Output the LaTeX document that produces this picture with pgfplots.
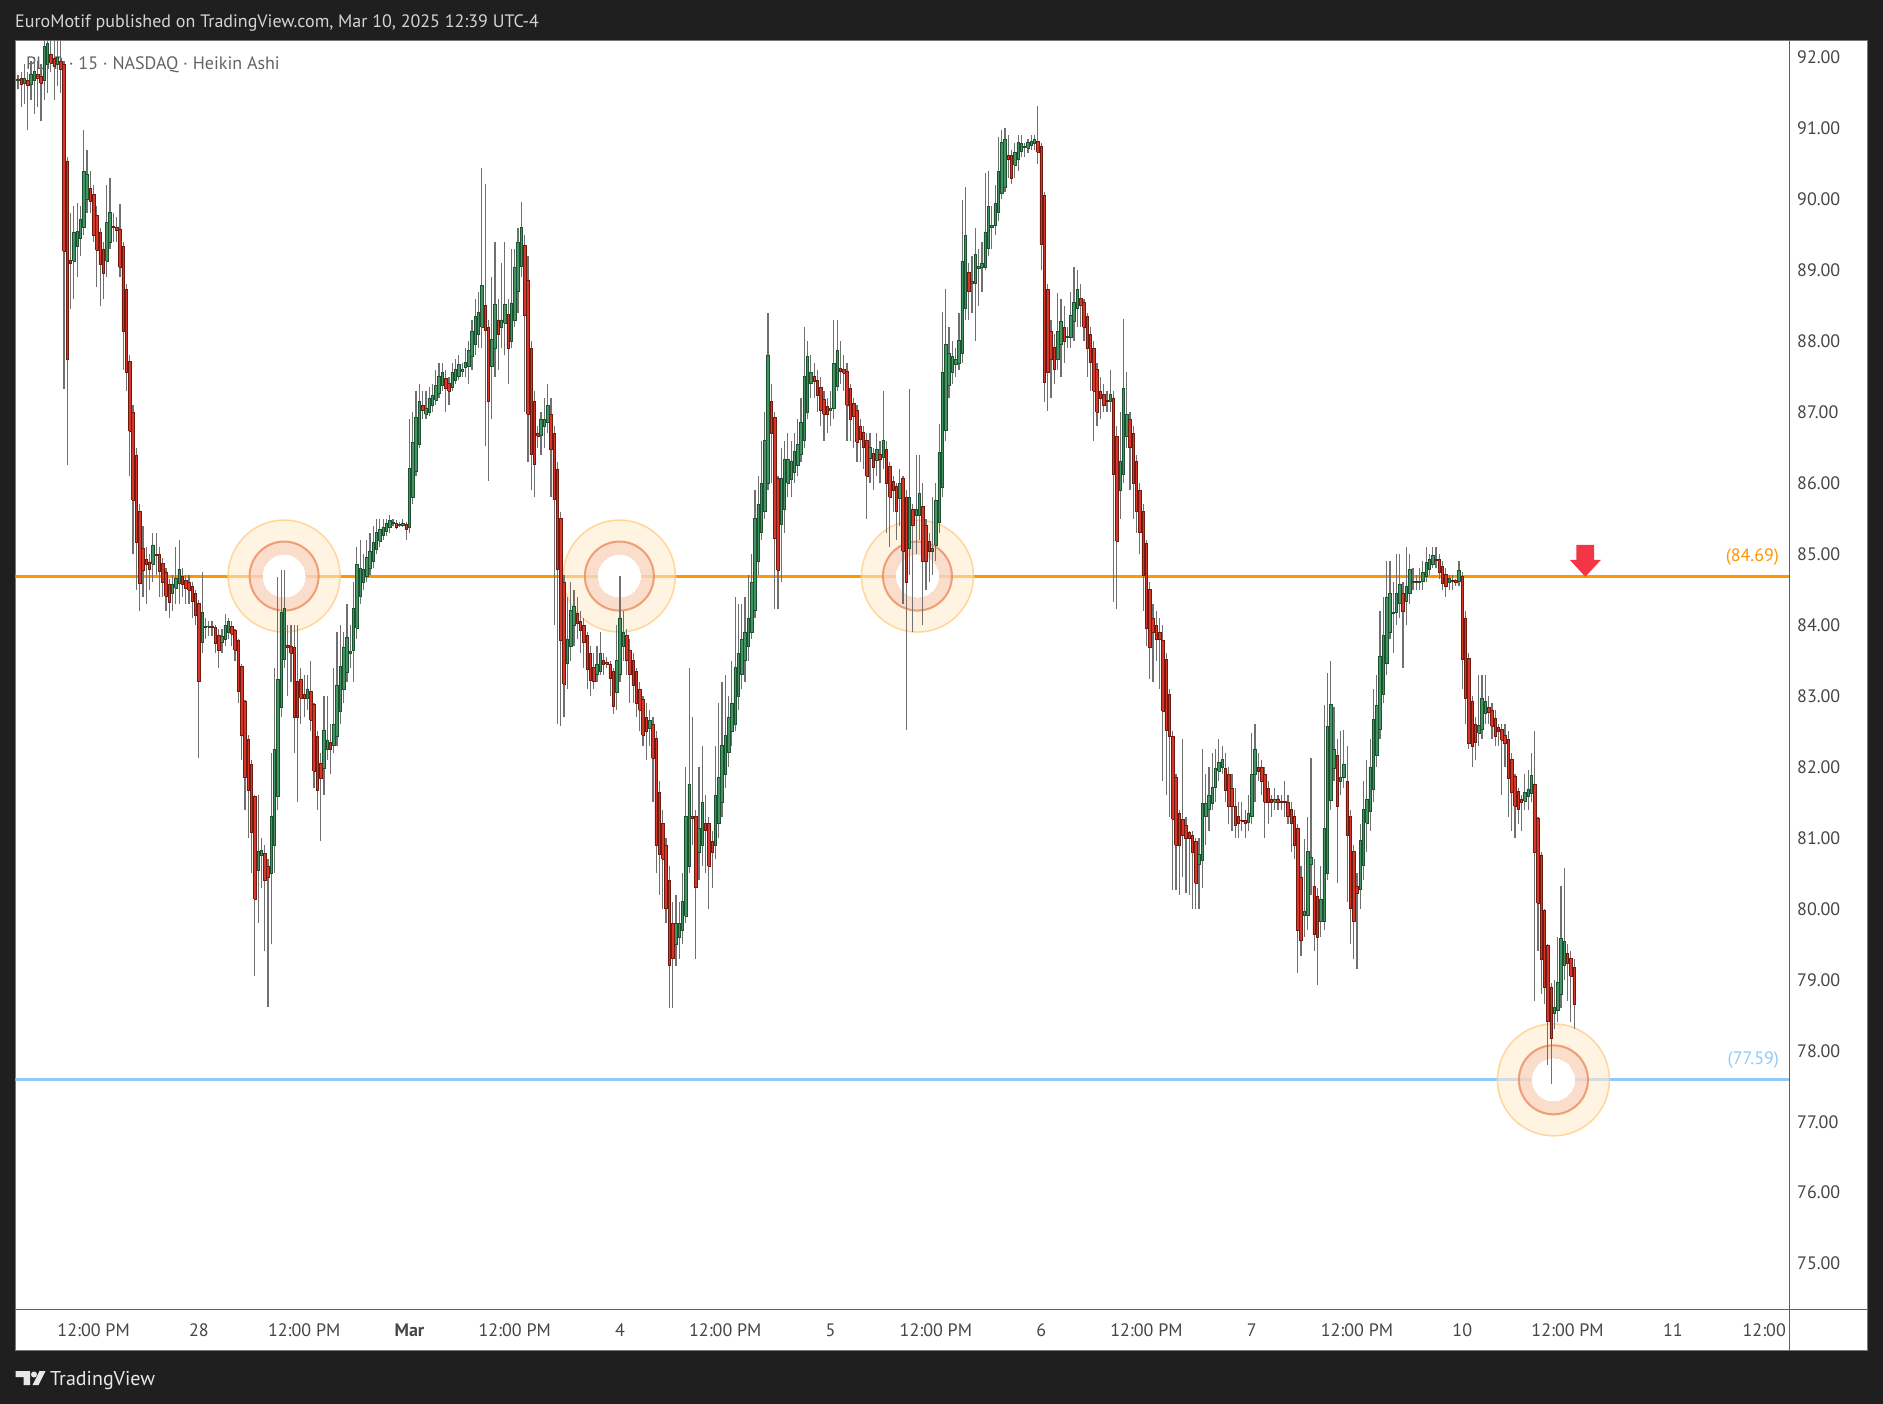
\documentclass[border=0pt]{standalone}
\usepackage{pgfplots}
\pgfplotsset{compat=1.18}
\usepackage{pgfplotstable}
\usepackage{fontspec}
\setmainfont{PT Sans}

\definecolor{framebg}{RGB}{31,31,31}
\definecolor{hdr}{RGB}{212,212,212}
\definecolor{panelline}{RGB}{120,120,120}
\definecolor{logo}{RGB}{232,232,232}
\definecolor{axisgray}{RGB}{95,95,95}
\definecolor{ticktext}{RGB}{70,70,70}
\definecolor{legtext}{RGB}{100,100,100}
\definecolor{upfill}{RGB}{67,148,99}
\definecolor{upline}{RGB}{28,82,48}
\definecolor{dnfill}{RGB}{214,55,40}
\definecolor{dnline}{RGB}{112,26,16}
\definecolor{wick}{RGB}{112,112,112}
\definecolor{resist}{RGB}{255,152,0}
\definecolor{support}{RGB}{144,202,249}
\definecolor{arrowred}{RGB}{242,54,69}
\definecolor{ringout}{RGB}{255,235,207}
\definecolor{ringoutline}{RGB}{255,200,120}
\definecolor{ringin}{RGB}{248,207,187}
\definecolor{ringinline}{RGB}{236,140,95}

\newcommand\tvfont{\fontsize{18}{21}\selectfont}

% PLTR 15 min Heikin Ashi, x = bar index (0 = Feb 28 04:00, 64 bars a day)
\pgfplotstableread{
x o h l c
-55 91.68 91.75 91.55 91.68
-54 91.70 91.80 91.30 91.62
-53 91.64 91.90 91.35 91.70
-52 91.68 91.80 90.97 91.60
-51 91.62 91.95 91.40 91.76
-50 91.68 92.00 91.20 91.80
-49 91.76 91.95 91.30 91.70
-48 91.73 91.90 91.10 91.64
-47 91.68 92.30 91.40 92.16
-46 91.90 92.30 91.50 92.20
-45 92.05 92.30 91.80 91.92
-44 91.98 92.30 91.40 91.88
-43 91.90 92.30 91.60 92.00
-42 91.95 92.25 91.50 91.83
-41 91.90 91.95 87.33 89.27
-40 90.54 90.60 86.25 87.74
-39 89.14 89.81 88.46 89.10
-38 89.13 89.90 88.60 89.54
-37 89.34 89.95 88.90 89.55
-36 89.45 89.90 89.20 89.72
-35 89.60 90.98 89.50 90.39
-34 90.00 90.70 89.80 90.35
-33 90.15 90.40 89.80 89.97
-32 90.07 90.20 89.40 89.49
-31 89.78 89.90 88.77 89.28
-30 89.53 89.60 88.50 89.08
-29 89.30 89.40 88.60 88.95
-28 89.13 90.20 88.90 89.67
-27 89.40 90.30 89.30 89.82
-26 89.62 89.80 89.40 89.60
-25 89.60 89.75 89.40 89.56
-24 89.58 89.94 88.90 89.04
-23 89.34 89.40 87.60 88.14
-22 88.73 88.80 87.30 87.56
-21 87.72 87.80 86.10 86.73
-20 87.00 87.10 85.00 85.76
-19 86.39 86.50 84.50 85.17
-18 85.60 85.70 84.20 84.59
-17 85.08 85.40 84.40 84.77
-16 84.93 85.10 84.30 84.85
-15 84.89 85.00 84.50 84.78
-14 84.86 85.30 84.60 85.13
-13 85.00 85.30 84.70 84.98
-12 84.99 85.10 84.40 84.75
-11 84.87 84.95 84.40 84.60
-10 84.74 84.80 84.20 84.41
-9 84.57 84.65 84.10 84.32
-8 84.45 84.70 84.20 84.58
-7 84.52 85.10 84.30 84.66
-6 84.59 85.20 84.30 84.79
-5 84.69 84.80 84.40 84.57
-4 84.63 84.70 84.30 84.52
-3 84.60 84.70 84.30 84.49
-2 84.54 84.60 84.10 84.34
-1 84.44 84.50 84.00 84.14
0 84.30 84.35 82.12 83.20
1 83.75 84.75 83.60 84.18
2 83.97 84.10 83.80 83.98
3 83.98 84.05 83.85 83.98
4 83.98 84.05 83.85 83.97
5 83.97 84.00 83.60 83.74
6 83.86 83.95 83.40 83.64
7 83.75 83.95 83.60 83.84
8 83.80 84.15 83.70 84.00
9 83.90 84.10 83.80 84.05
10 83.98 84.05 83.70 83.87
11 83.92 83.95 83.50 83.65
12 83.78 83.80 82.90 83.06
13 83.42 83.45 82.10 82.45
14 82.93 82.95 81.40 81.85
15 82.39 82.45 81.00 81.67
16 82.03 82.10 80.50 81.08
17 81.58 81.60 79.06 80.14
18 80.54 81.60 79.80 80.81
19 80.75 81.00 80.30 80.82
20 80.78 80.90 79.40 80.40
21 80.60 80.70 78.61 80.45
22 80.50 82.20 79.50 81.31
23 80.90 83.40 80.50 82.25
24 81.58 84.68 81.40 83.24
25 82.84 84.77 82.70 84.18
26 83.51 84.77 83.40 84.23
27 83.72 84.00 83.00 83.68
28 83.70 84.00 83.20 83.60
29 83.69 84.00 82.20 82.70
30 83.20 84.00 81.50 82.70
31 83.24 83.40 82.60 82.97
32 83.02 83.30 82.70 82.97
33 82.97 83.30 82.80 83.10
34 83.07 83.50 82.50 82.66
35 82.88 82.90 81.70 81.94
36 82.43 82.50 81.40 81.67
37 82.05 82.20 80.95 81.84
38 81.98 83.00 81.60 82.52
39 82.25 83.00 82.10 82.38
40 82.34 82.60 81.90 82.25
41 82.30 83.40 82.20 82.60
42 82.43 83.90 82.30 83.15
43 82.79 84.00 82.60 83.42
44 83.10 83.90 82.90 83.68
45 83.33 84.30 83.20 83.83
46 83.60 84.00 83.40 83.63
47 83.65 84.60 83.20 84.23
48 83.96 85.10 83.80 84.86
49 84.40 85.20 84.30 84.80
50 84.60 85.00 84.50 84.78
51 84.68 85.20 84.60 84.95
52 84.80 85.30 84.70 85.04
53 84.90 85.40 84.80 85.17
54 85.06 85.50 85.00 85.30
55 85.18 85.50 85.10 85.35
56 85.26 85.50 85.20 85.38
57 85.32 85.50 85.25 85.44
58 85.38 85.55 85.30 85.47
59 85.43 85.50 85.40 85.44
60 85.43 85.48 85.35 85.38
61 85.40 85.45 85.38 85.42
62 85.40 85.50 85.38 85.44
63 85.42 85.45 85.20 85.35
64 85.38 86.90 85.30 86.21
65 85.80 87.00 85.70 86.57
66 86.16 87.30 86.10 86.93
67 86.55 87.40 86.50 87.15
68 87.10 87.30 86.90 87.03
69 86.97 87.30 86.90 87.06
70 87.00 87.35 86.95 87.20
71 87.10 87.40 87.00 87.24
72 87.17 87.60 87.10 87.38
73 87.27 87.70 87.20 87.51
74 87.38 87.70 87.30 87.56
75 87.47 87.60 87.00 87.33
76 87.40 87.50 87.10 87.30
77 87.35 87.70 87.30 87.56
78 87.45 87.75 87.40 87.60
79 87.50 87.80 87.45 87.67
80 87.58 87.70 87.50 87.60
81 87.63 87.90 87.50 87.70
82 87.65 88.00 87.40 87.87
83 87.78 88.30 87.60 88.14
84 87.96 88.60 87.80 88.35
85 88.10 88.70 87.90 88.40
86 88.20 90.44 87.90 88.79
87 88.50 90.21 86.52 88.15
88 88.20 88.30 86.03 87.15
89 87.65 88.90 86.90 88.02
90 87.90 89.40 87.50 88.52
91 88.30 88.60 87.60 88.10
92 88.20 89.10 87.90 88.30
93 88.25 89.40 87.80 88.52
94 88.38 88.60 87.40 87.90
95 88.00 89.30 87.90 88.54
96 88.30 89.30 88.20 89.04
97 88.70 89.60 88.40 89.40
98 89.05 89.96 88.90 89.60
99 89.35 89.50 87.00 88.36
100 88.86 89.20 86.30 86.97
101 87.90 88.00 85.90 86.40
102 87.15 87.30 85.80 86.26
103 86.70 86.80 86.50 86.66
104 86.68 87.00 86.40 86.90
105 86.80 87.20 86.50 86.90
106 86.85 87.40 86.70 87.10
107 86.97 87.20 85.80 86.47
108 86.70 86.80 84.00 85.77
109 86.20 86.30 82.60 84.79
110 85.50 85.60 82.57 83.78
111 84.60 84.70 82.70 83.17
112 83.46 84.40 83.10 83.80
113 83.70 84.60 83.50 84.20
114 84.00 84.50 83.70 84.26
115 84.17 84.40 83.80 84.03
116 84.05 84.20 83.60 83.93
117 84.00 84.10 83.40 83.75
118 83.85 83.90 83.10 83.38
119 83.60 83.70 83.00 83.22
120 83.40 83.60 83.10 83.20
121 83.30 83.70 83.20 83.45
122 83.35 83.90 83.30 83.60
123 83.50 83.60 83.30 83.45
124 83.47 83.55 83.40 83.45
125 83.45 83.50 83.00 83.25
126 83.35 83.40 82.75 82.85
127 83.05 84.00 82.80 83.50
128 83.30 84.69 83.20 84.10
129 83.70 84.20 83.50 83.90
130 83.85 83.95 83.30 83.50
131 83.65 83.80 82.90 83.30
132 83.50 83.60 82.90 83.15
133 83.35 83.40 82.70 82.90
134 83.10 83.20 82.50 82.80
135 82.95 83.00 82.30 82.45
136 82.70 82.90 82.10 82.50
137 82.55 82.80 82.30 82.65
138 82.60 82.70 81.50 82.12
139 82.40 82.50 80.50 80.90
140 81.64 81.80 80.20 80.77
141 81.20 81.40 80.00 80.70
142 80.90 81.00 79.80 80.00
143 80.40 80.60 78.60 79.20
144 79.80 80.10 78.60 79.30
145 79.50 80.20 79.20 79.80
146 79.60 80.10 79.30 79.80
147 79.70 80.50 79.50 80.10
148 79.90 82.00 79.80 81.30
149 80.60 83.40 80.50 81.75
150 81.30 82.70 80.90 81.28
151 81.30 81.40 79.30 80.30
152 80.80 82.00 80.40 81.13
153 80.90 82.30 80.60 81.50
154 81.20 81.60 80.50 81.10
155 81.20 81.30 80.00 80.60
156 80.95 81.10 80.30 80.80
157 80.90 82.30 80.70 81.60
158 81.20 82.90 81.00 81.85
159 81.50 83.20 81.30 82.30
160 81.90 83.30 81.70 82.45
161 82.20 83.00 82.00 82.70
162 82.50 83.50 82.30 82.90
163 82.60 84.40 82.50 83.40
164 83.00 84.30 82.80 83.60
165 83.30 84.30 83.10 83.80
166 83.50 84.40 83.20 83.90
167 83.70 84.70 83.50 84.10
168 83.90 85.00 83.80 84.60
169 84.20 85.90 84.10 85.50
170 84.90 86.10 84.70 85.70
171 85.30 86.60 85.20 86.00
172 85.60 87.00 85.50 86.60
173 86.00 88.40 85.90 87.80
174 87.15 87.40 86.00 86.70
175 86.93 87.00 84.23 85.22
176 86.07 86.10 84.23 84.77
177 85.42 86.50 84.60 86.07
178 85.63 86.60 85.30 86.34
179 86.00 86.70 85.80 86.34
180 86.05 86.60 85.80 86.30
181 86.15 86.70 86.00 86.45
182 86.25 86.90 86.10 86.55
183 86.40 87.20 86.30 86.85
184 86.60 88.20 86.50 87.50
185 87.00 88.00 86.90 87.78
186 87.40 87.80 87.20 87.56
187 87.50 87.70 87.20 87.43
188 87.45 87.60 87.00 87.24
189 87.35 87.50 86.80 87.02
190 87.18 87.30 86.60 86.97
191 87.08 87.20 86.70 86.97
192 87.02 87.30 86.80 87.06
193 87.05 88.30 86.90 87.69
194 87.37 88.30 87.30 87.87
195 87.62 88.00 87.40 87.57
196 87.60 87.80 87.30 87.55
197 87.58 87.70 86.60 87.10
198 87.34 87.40 86.60 86.90
199 87.12 87.20 86.50 86.94
200 87.03 87.10 86.30 86.58
201 86.80 86.90 86.30 86.62
202 86.71 86.80 86.20 86.50
203 86.60 86.70 85.50 86.10
204 86.35 86.70 86.00 86.50
205 86.42 86.50 85.90 86.22
206 86.32 86.70 86.10 86.47
207 86.40 86.60 86.00 86.33
208 86.36 87.30 86.20 86.60
209 86.48 86.60 85.30 86.00
210 86.24 86.30 85.10 85.80
211 86.02 86.10 85.60 85.90
212 85.96 86.00 85.20 85.60
213 85.78 86.20 85.40 86.00
214 86.07 86.10 84.30 85.04
215 85.80 85.90 82.52 84.60
216 85.08 87.33 84.70 85.80
217 85.63 85.70 83.90 85.40
218 85.54 86.40 85.00 85.63
219 85.54 86.40 85.20 85.85
220 85.67 86.00 84.00 84.90
221 85.40 85.50 84.50 84.90
222 85.18 85.30 84.60 85.04
223 85.04 85.80 84.70 85.08
224 85.13 86.00 84.90 85.76
225 85.45 86.84 85.30 86.43
226 85.94 88.41 85.80 87.56
227 86.75 88.73 86.60 87.96
228 87.38 88.20 87.20 87.83
229 87.56 88.00 87.40 87.78
230 87.67 87.90 87.50 87.74
231 87.69 88.40 87.60 88.01
232 87.83 89.99 87.70 89.13
233 88.46 90.17 88.30 89.49
234 88.97 89.10 88.30 88.70
235 88.82 89.20 88.40 88.84
236 88.82 89.60 88.00 89.22
237 89.02 89.30 88.50 89.06
238 89.04 89.40 88.70 89.10
239 89.04 90.37 89.00 89.54
240 89.31 90.40 89.20 89.90
241 89.60 89.90 89.30 89.63
242 89.63 90.20 89.50 89.94
243 89.81 90.88 89.70 90.39
244 90.08 90.97 90.00 90.80
245 90.17 91.00 90.10 90.84
246 90.62 90.90 90.30 90.57
247 90.62 90.70 90.21 90.30
248 90.48 90.80 90.30 90.66
249 90.57 90.90 90.40 90.80
250 90.68 90.90 90.60 90.79
251 90.73 90.80 90.60 90.74
252 90.72 90.85 90.65 90.80
253 90.76 90.90 90.70 90.82
254 90.79 90.90 90.70 90.85
255 90.81 91.32 90.50 90.66
256 90.75 90.80 89.00 89.36
257 90.05 90.10 87.15 87.42
258 88.73 88.80 87.02 87.56
259 88.14 88.30 87.20 87.74
260 87.92 88.10 87.40 87.60
261 87.74 88.68 87.60 88.14
262 87.96 88.60 87.50 88.28
263 88.20 88.50 87.70 88.00
264 88.05 88.20 87.90 88.07
265 88.05 88.70 87.90 88.37
266 88.28 89.04 88.00 88.55
267 88.46 89.00 88.20 88.73
268 88.60 88.80 88.20 88.50
269 88.55 88.60 88.00 88.20
270 88.35 88.40 87.50 87.90
271 88.10 88.20 87.30 87.70
272 87.90 88.00 86.60 87.30
273 87.60 87.70 86.80 87.00
274 87.30 87.50 86.90 87.20
275 87.25 87.40 87.00 87.10
276 87.17 87.30 87.00 87.15
277 87.15 87.60 87.00 87.25
278 87.20 87.30 84.32 86.12
279 86.66 86.80 84.23 85.18
280 85.90 87.00 85.50 86.30
281 86.12 88.32 86.00 87.33
282 86.66 87.56 86.50 86.97
283 86.90 87.00 85.90 86.50
284 86.70 86.80 85.50 86.00
285 86.30 86.40 85.30 85.60
286 85.90 86.00 85.00 85.30
287 85.60 85.70 84.20 84.70
288 85.15 85.20 83.70 83.96
289 84.50 84.60 83.24 83.69
290 84.10 84.30 83.20 83.90
291 84.00 84.20 83.50 83.80
292 83.90 84.10 83.10 83.80
293 83.78 84.00 81.80 82.79
294 83.51 83.60 81.60 82.52
295 83.02 83.10 81.30 82.43
296 82.43 82.50 80.27 81.26
297 81.85 81.90 80.27 80.90
298 81.35 81.40 80.20 80.90
299 81.26 82.40 80.45 81.04
300 81.17 81.30 80.23 80.99
301 81.08 81.10 80.20 81.00
302 81.04 81.10 80.00 80.80
303 80.95 81.00 80.00 80.36
304 80.63 81.00 80.00 80.77
305 80.68 82.25 80.30 81.49
306 81.31 81.90 80.90 81.49
307 81.40 82.00 81.10 81.60
308 81.49 82.20 81.40 81.71
309 81.71 82.25 81.50 81.98
310 81.94 82.40 81.80 82.07
311 82.00 82.30 81.90 82.10
312 81.98 82.20 81.50 81.67
313 81.89 82.00 81.20 81.44
314 81.70 81.90 81.10 81.45
315 81.44 81.70 81.00 81.17
316 81.30 81.50 81.00 81.20
317 81.25 81.50 81.10 81.24
318 81.25 81.40 81.00 81.20
319 81.22 81.60 81.10 81.35
320 81.31 82.48 81.20 81.89
321 81.89 82.60 81.50 82.25
322 82.00 82.20 81.80 81.94
323 82.00 82.10 81.60 81.80
324 81.90 82.00 81.00 81.50
325 81.70 81.80 81.20 81.50
326 81.55 81.60 81.30 81.50
327 81.50 81.70 81.40 81.55
328 81.55 81.60 81.40 81.50
329 81.52 81.60 81.40 81.50
330 81.51 81.80 81.30 81.50
331 81.50 81.60 81.20 81.30
332 81.40 81.50 80.80 81.20
333 81.30 81.40 80.70 80.90
334 81.13 81.20 79.10 79.69
335 80.45 80.60 79.33 79.55
336 79.91 80.99 79.60 79.96
337 79.91 81.30 79.70 80.81
338 80.63 82.12 80.20 80.72
339 80.32 80.70 79.40 79.64
340 80.18 80.30 78.92 79.60
341 79.82 80.60 79.60 80.14
342 79.82 82.88 79.70 81.13
343 80.50 83.33 80.40 82.57
344 81.53 83.50 81.40 82.88
345 81.98 82.84 81.80 82.25
346 82.16 82.40 80.36 81.44
347 81.80 82.50 81.60 81.85
348 81.85 82.52 81.70 82.03
349 81.80 82.30 80.09 81.04
350 81.30 81.40 79.51 80.00
351 80.81 80.90 79.30 79.83
352 80.32 80.50 79.15 80.22
353 80.27 81.20 80.00 80.96
354 80.62 81.80 80.40 81.40
355 81.21 82.10 80.80 81.55
356 81.38 82.40 81.10 82.00
357 81.69 83.10 81.50 82.67
358 82.16 83.30 82.00 82.87
359 82.53 84.20 82.40 83.56
360 83.02 84.40 82.90 83.85
361 83.46 84.90 83.30 84.39
362 83.90 84.90 83.80 84.44
363 84.17 84.60 83.60 84.18
364 84.18 85.00 84.00 84.44
365 84.30 85.00 84.10 84.58
366 84.45 84.60 83.40 84.19
367 84.34 85.10 84.00 84.54
368 84.44 85.00 84.30 84.78
369 84.60 84.80 84.50 84.61
370 84.61 84.70 84.50 84.60
371 84.60 84.80 84.50 84.62
372 84.61 84.90 84.50 84.74
373 84.68 85.10 84.60 84.88
374 84.78 85.00 84.70 84.93
375 84.85 85.10 84.80 84.98
376 84.92 85.10 84.80 84.91
377 84.93 85.00 84.65 84.74
378 84.83 84.90 84.50 84.59
379 84.71 84.80 84.40 84.54
380 84.60 84.70 84.50 84.66
381 84.63 84.70 84.50 84.61
382 84.62 84.65 84.55 84.61
383 84.61 84.90 84.55 84.77
384 84.69 84.75 83.10 83.51
385 84.10 84.20 82.60 82.97
386 83.53 83.60 82.25 82.33
387 82.93 83.00 82.00 82.29
388 82.60 82.70 82.10 82.35
389 82.48 83.30 82.30 82.58
390 82.53 83.30 82.40 82.97
391 82.75 83.30 82.60 82.92
392 82.84 83.00 82.60 82.77
393 82.80 82.90 82.40 82.57
394 82.69 82.80 82.30 82.43
395 82.56 82.60 82.30 82.50
396 82.53 82.60 81.60 82.38
397 82.45 82.60 82.00 82.33
398 82.39 82.50 81.30 81.84
399 82.10 82.20 81.10 81.64
400 81.87 81.90 81.00 81.45
401 81.66 81.70 81.20 81.40
402 81.55 81.60 81.10 81.50
403 81.52 81.90 81.40 81.64
404 81.58 81.95 81.40 81.69
405 81.63 82.20 81.50 81.88
406 81.76 82.50 78.70 80.79
407 81.27 81.30 79.40 80.08
408 80.76 80.80 78.80 79.29
409 79.98 80.00 78.66 78.90
410 79.49 79.50 77.80 78.41
411 78.90 78.95 77.53 78.17
412 78.53 79.00 78.30 78.61
413 78.57 79.60 78.40 78.97
414 78.80 80.32 78.60 79.59
415 79.20 80.57 79.00 79.54
416 79.37 79.50 78.70 79.23
417 79.30 79.40 78.40 79.05
418 79.17 79.30 78.30 78.66
}\candles

% collect the rows into three paths: wicks, up bodies, down bodies
\pgfplotstablegetrowsof{\candles}
\pgfmathtruncatemacro\lastrow{\pgfplotsretval-1}
\gdef\wicks{}\gdef\upbody{}\gdef\dnbody{}
\foreach \r in {0,...,\lastrow}{%
  \pgfplotstablegetelem{\r}{x}\of\candles\let\cx\pgfplotsretval
  \pgfplotstablegetelem{\r}{o}\of\candles\let\co\pgfplotsretval
  \pgfplotstablegetelem{\r}{h}\of\candles\let\ch\pgfplotsretval
  \pgfplotstablegetelem{\r}{l}\of\candles\let\cl\pgfplotsretval
  \pgfplotstablegetelem{\r}{c}\of\candles\let\cc\pgfplotsretval
  \xdef\wicks{\wicks (\cx,\cl) (\cx,\ch) (\cx,nan)}%
  \pgfmathsetmacro\bt{max(\co,\cc,(\co+\cc)/2+0.008)}%
  \pgfmathsetmacro\bb{min(\co,\cc,(\co+\cc)/2-0.008)}%
  \pgfmathsetmacro\xl{\cx-0.38}%
  \pgfmathsetmacro\xr{\cx+0.38}%
  \ifdim\cc pt<\co pt
    \xdef\dnbody{\dnbody (\xl,\bb) (\xr,\bb) (\xr,\bt) (\xl,\bt) (\xl,\bb) (\cx,nan)}%
  \else
    \xdef\upbody{\upbody (\xl,\bb) (\xr,\bb) (\xr,\bt) (\xl,\bt) (\xl,\bb) (\cx,nan)}%
  \fi
}

\begin{document}
\begin{tikzpicture}
\fill[framebg] (0pt,0pt) rectangle (1883pt,-1404pt);
\fill[white] (15.3pt,-40.8pt) rectangle (1867pt,-1350.5pt);
\draw[panelline, line width=0.8pt] (15.3pt,-40.8pt) rectangle (1867pt,-1350.5pt);

\node[anchor=base west, text=hdr, font=\tvfont, inner sep=0pt] at (15pt,-28pt)
  {EuroMotif published on TradingView.com, Mar 10, 2025 12:39 UTC-4};
\node[anchor=base west, text=legtext, font=\tvfont, inner sep=0pt] at (26pt,-70pt)
  {PLTR · 15 · NASDAQ · Heikin Ashi};

\begin{axis}[
  at={(15.3pt,-40.8pt)}, anchor=north west,
  width=1773.7pt, height=1268.5pt, scale only axis,
  xmin=-55.8, xmax=483.3, ymin=74.356, ymax=92.234,
  axis x line*=bottom, axis y line*=right,
  axis line style={draw=none},
  major tick length=0pt,
  clip marker paths=true,
  xtick={-32,0,...,448},
  xticklabels={12:00 PM,28,12:00 PM,\textbf{Mar},12:00 PM,4,12:00 PM,5,12:00 PM,6,12:00 PM,7,12:00 PM,10,12:00 PM,11},
  ytick={75,76,...,92},
  tick label style={font=\tvfont, text=ticktext},
  xticklabel style={anchor=base, yshift=-27pt},
  yticklabel style={anchor=west, inner sep=0pt, xshift=8pt,
    /pgf/number format/.cd, fixed, fixed zerofill, precision=2},
  /pgf/number format/assume math mode=true,
]
% horizontal levels
\addplot[resist, line width=3pt] coordinates {(-60,84.69) (490,84.69)};
\addplot[support, line width=3pt] coordinates {(-60,77.59) (490,77.59)};

% drawn circles around the touches (over the levels, under the candles)
\addplot[only marks, mark=*, mark size=56pt,
  mark options={fill=ringout, fill opacity=0.6, draw=ringoutline, draw opacity=0.7, line width=1.5pt}]
  coordinates {(25.9,84.69) (127.8,84.69) (218.4,84.69) (411.7,77.59)};
\addplot[only marks, mark=*, mark size=34.5pt,
  mark options={fill=ringin, fill opacity=0.6, draw=ringinline, draw opacity=0.8, line width=2pt}]
  coordinates {(25.9,84.69) (127.8,84.69) (218.4,84.69) (411.7,77.59)};
\addplot[white, only marks, mark=*, mark size=21pt,
  mark options={fill=white, draw=white, line width=0pt}]
  coordinates {(25.9,84.69) (127.8,84.69) (218.4,84.69) (411.7,77.59)};

% candles
\edef\temp{\noexpand\addplot[draw=wick, line width=1.2pt, unbounded coords=jump]
  coordinates {\wicks};}\temp
\edef\temp{\noexpand\addplot[fill=upfill, draw=upline, line width=0.7pt, unbounded coords=jump]
  coordinates {\upbody};}\temp
\edef\temp{\noexpand\addplot[fill=dnfill, draw=dnline, line width=0.7pt, unbounded coords=jump]
  coordinates {\dnbody};}\temp

% sell arrow
\addplot[fill=arrowred, draw=none] coordinates {(418.7,85.128) (424.1,85.128)
  (424.1,84.917) (426.1,84.917) (421.4,84.68) (416.7,84.917) (418.7,84.917)};

\node[anchor=east, text=resist, font=\tvfont, inner sep=0pt] at (axis cs:480.3,84.96) {(84.69)};
\node[anchor=east, text=support, font=\tvfont, inner sep=0pt] at (axis cs:480.3,77.87) {(77.59)};
\end{axis}

\draw[axisgray, line width=1pt] (15.3pt,-1309.3pt) -- (1867pt,-1309.3pt);
\draw[axisgray, line width=1pt] (1789pt,-40.8pt) -- (1789pt,-1350.5pt);
\node[anchor=base east, text=ticktext, font=\tvfont, inner sep=0pt] at (1786pt,-1336pt) {12:00};

% TradingView logo
\fill[logo] (15.6pt,-1371pt) -- (30pt,-1371pt) -- (30pt,-1385pt)
  -- (23.5pt,-1385pt) -- (23.5pt,-1377pt) -- (15.6pt,-1377pt) -- cycle;
\fill[logo] (34pt,-1374.5pt) circle[radius=3pt];
\fill[logo] (39.5pt,-1371pt) -- (45.5pt,-1371pt) -- (38.5pt,-1385pt) -- (32.5pt,-1385pt) -- cycle;
\node[anchor=base west, text=logo, font=\fontsize{20}{22}\selectfont, inner sep=0pt]
  at (50pt,-1385pt) {TradingView};
\end{tikzpicture}
\end{document}
